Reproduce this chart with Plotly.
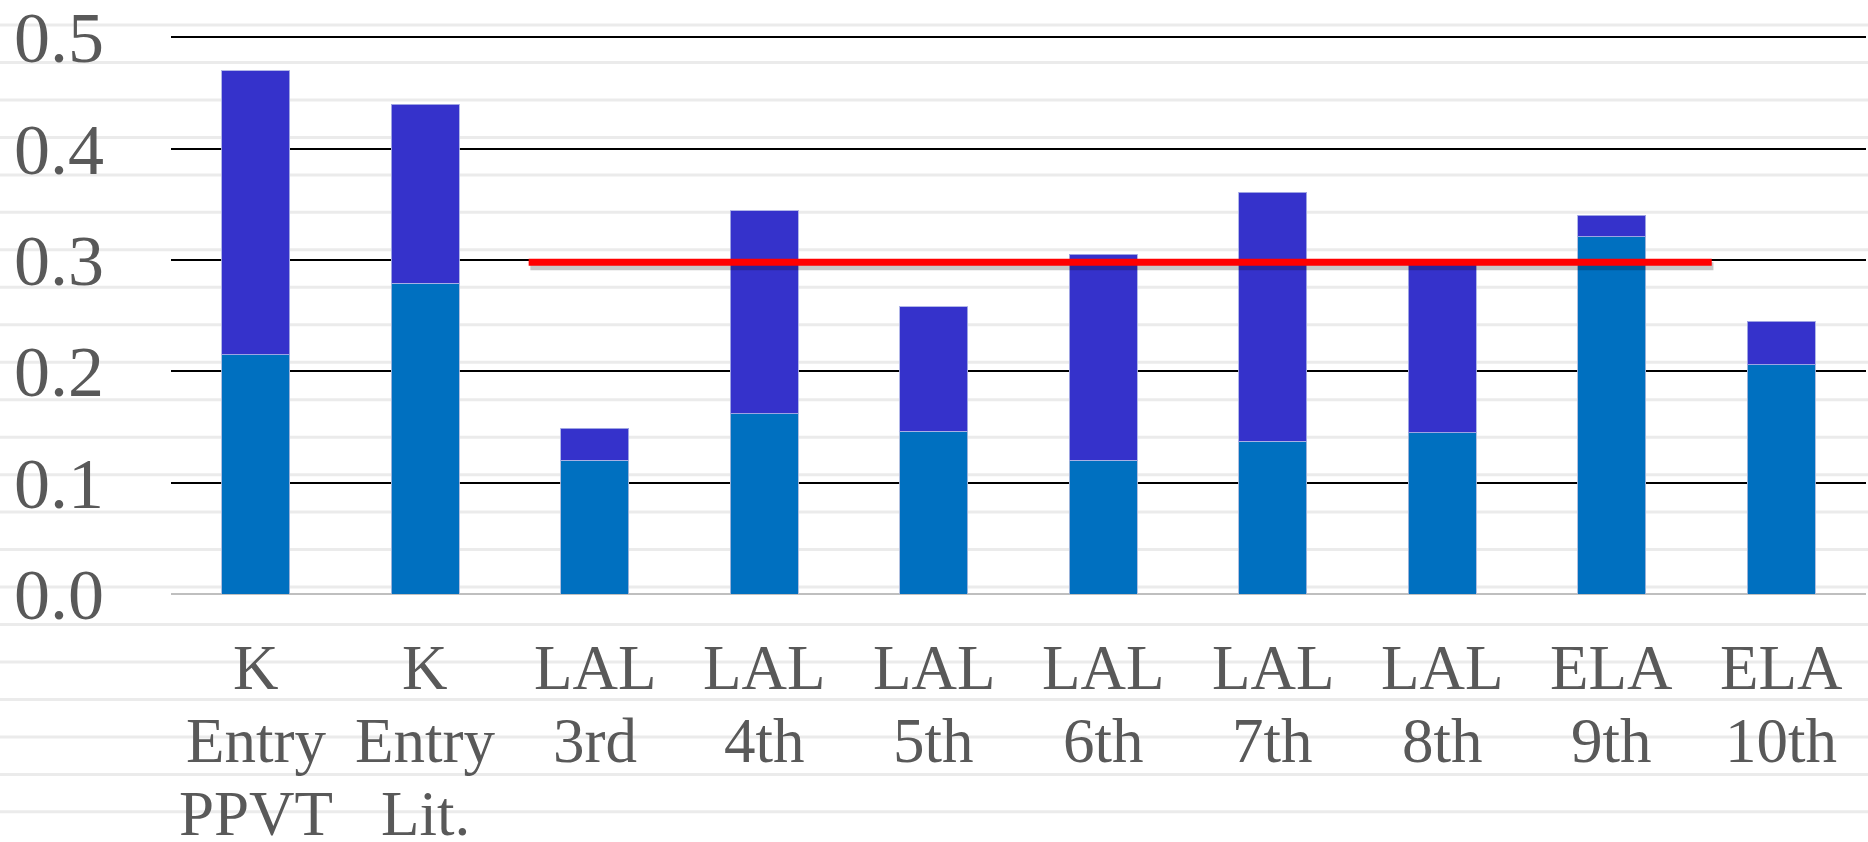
import plotly.graph_objects as go

categories = ["K<br>Entry<br>PPVT", "K<br>Entry<br>Lit.", "LAL<br>3rd", "LAL<br>4th", "LAL<br>5th",
              "LAL<br>6th", "LAL<br>7th", "LAL<br>8th", "ELA<br>9th", "ELA<br>10th"]
lower_values = [0.215, 0.279, 0.120, 0.162, 0.146, 0.120, 0.137, 0.145, 0.321, 0.206]
total_values = [0.470, 0.440, 0.149, 0.344, 0.258, 0.305, 0.361, 0.296, 0.340, 0.245]
upper_values = [round(t - l, 3) for t, l in zip(total_values, lower_values)]
y_tick_values = [0.0, 0.1, 0.2, 0.3, 0.4, 0.5]
y_tick_labels = ["0.0", "0.1", "0.2", "0.3", "0.4", "0.5"]
benchmark_value = 0.298
benchmark_span = [1.61, 8.59]  # category-axis positions where the red line starts / ends

W, H = 1868, 842
ML, MR, MT, MB = 171, 2, 35, 248
YMAX = 0.502
LABEL_FONT = 63
LINE_PITCH = 73
FIRST_LINE_SHIFT = 74

fig = go.Figure()
fig.add_trace(go.Bar(x=categories, y=lower_values, marker=dict(color="#0070C0",
                     line=dict(width=1, color="rgba(170,185,220,0.9)")), showlegend=False))
fig.add_trace(go.Bar(x=categories, y=upper_values, marker=dict(color="#3532CB",
                     line=dict(width=1, color="rgba(170,175,230,0.9)")), showlegend=False))

shapes = []
plot_w = W - ML - MR
plot_h = H - MT - MB
k = 0
while True:
    py = 25 + k * 37.47
    if py > H:
        break
    shapes.append(dict(type="line", xref="paper", yref="paper",
                       x0=-ML / plot_w, x1=(W - ML) / plot_w,
                       y0=(H - MB - py) / plot_h, y1=(H - MB - py) / plot_h,
                       line=dict(color="#ebebeb", width=3), layer="below"))
    k += 1

shapes.append(dict(type="line", xref="x", yref="y", ysizemode="pixel", yanchor=benchmark_value,
                   x0=benchmark_span[0] + 0.01, x1=benchmark_span[1] + 0.01, y0=-4, y1=-4,
                   line=dict(color="rgba(0,0,0,0.22)", width=8), layer="above"))
shapes.append(dict(type="line", xref="x", yref="y",
                   x0=benchmark_span[0], x1=benchmark_span[1], y0=benchmark_value, y1=benchmark_value,
                   line=dict(color="#FF0000", width=7), layer="above"))

annotations = []
for cat in categories:
    for i, line_text in enumerate(cat.split("<br>")):
        annotations.append(dict(x=cat, xref="x", y=0, yref="y", text=line_text,
                                showarrow=False, yanchor="middle", xanchor="center",
                                yshift=-(FIRST_LINE_SHIFT + i * LINE_PITCH),
                                font=dict(size=LABEL_FONT, family="Liberation Serif", color="#595959")))

fig.update_layout(
    barmode="stack",
    bargap=0.6,
    width=W, height=H,
    margin=dict(l=ML, r=MR, t=MT, b=MB, pad=0, autoexpand=False),
    paper_bgcolor="white",
    plot_bgcolor="rgba(0,0,0,0)",
    shapes=shapes,
    annotations=annotations,
    font=dict(family="Liberation Serif", color="#595959"),
    xaxis=dict(showgrid=False, showline=False, zeroline=False, ticks="",
               showticklabels=False, automargin=False),
    yaxis=dict(range=[0, YMAX], tickvals=y_tick_values, ticktext=y_tick_labels,
               showgrid=True, gridcolor="black", gridwidth=2,
               zeroline=True, zerolinecolor="#bfbfbf", zerolinewidth=2,
               showline=False, ticks="", automargin=False, ticklabeloverflow="allow",
               tickfont=dict(size=72, family="Liberation Serif", color="#595959"),
               ticklabelstandoff=66),
)

fig.write_html("out.html", config={"displayModeBar": False},
               post_script="document.body.style.margin='0';document.body.style.overflow='hidden';")
